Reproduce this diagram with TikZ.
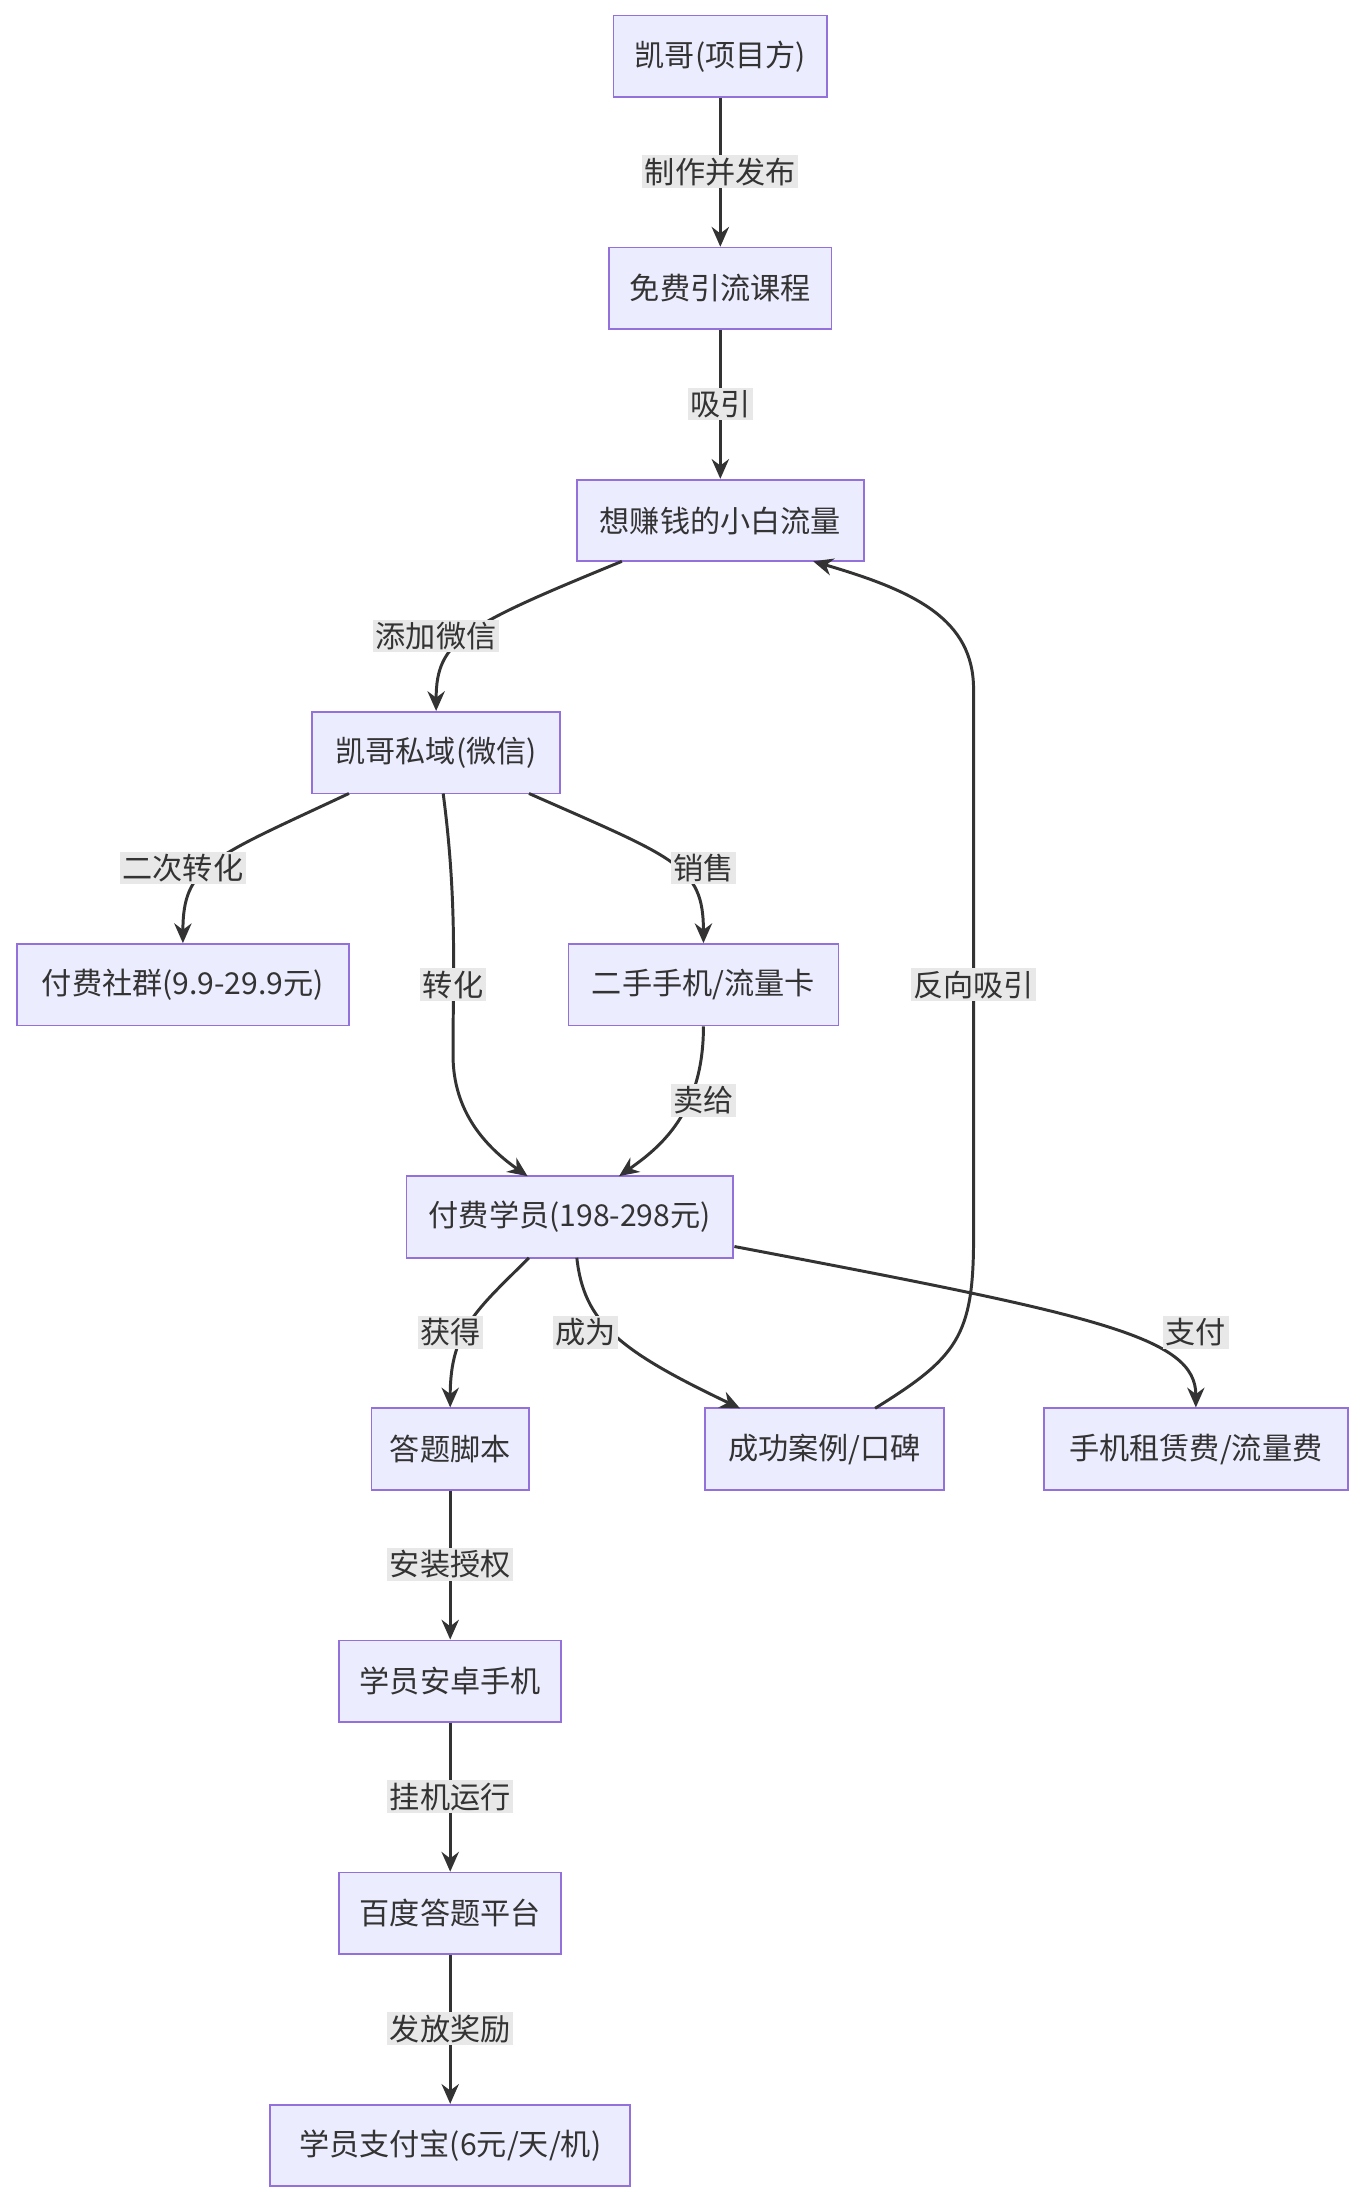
\documentclass[tikz,border=0pt]{standalone}
\usepackage{fontspec}
\setmainfont{Noto Sans CJK SC}
\usepackage{tikz}
\usetikzlibrary{positioning,arrows.meta}
\definecolor{boxfill}{HTML}{ECECFF}
\definecolor{boxline}{HTML}{9370DB}
\definecolor{edge}{HTML}{333333}
\definecolor{lblbg}{HTML}{E8E8E8}
\begin{document}
\begin{tikzpicture}[x=0.02cm,y=-0.02cm,
  box/.style={draw=boxline,fill=boxfill,line width=0.7pt,minimum height=1.16cm,inner xsep=0pt,font=\fontsize{12.2}{14}\selectfont,text=edge},
  lbl/.style={fill=lblbg,inner sep=1pt,font=\fontsize{12.2}{14}\selectfont,text=edge},
  link/.style={draw=edge,line width=1.2pt,-{Stealth[length=8pt,width=7pt]}}]
\useasboundingbox (0,0) rectangle (970,1568);
% nodes
\node[box,minimum width=3.04cm] (kai) at (512,40) {凯哥(项目方)};
\node[box,minimum width=3.16cm] (free) at (512,205) {免费引流课程};
\node[box,minimum width=4.08cm] (xiaobai) at (512,370) {想赚钱的小白流量};
\node[box,minimum width=3.52cm] (siyu) at (310,535) {凯哥私域(微信)};
\node[box,minimum width=4.72cm] (shequn) at (130,700) {付费社群(9.9-29.9元)};
\node[box,minimum width=3.84cm] (phone) at (500,700) {二手手机/流量卡};
\node[box,minimum width=4.64cm] (xueyuan) at (405,865) {付费学员(198-298元)};
\node[box,minimum width=2.24cm] (script) at (320,1030) {答题脚本};
\node[box,minimum width=3.40cm] (cases) at (586,1030) {成功案例/口碑};
\node[box,minimum width=4.32cm] (fee) at (850,1030) {手机租赁费/流量费};
\node[box,minimum width=3.16cm] (android) at (320,1195) {学员安卓手机};
\node[box,minimum width=3.16cm] (baidu) at (320,1360) {百度答题平台};
\node[box,minimum width=5.12cm] (alipay) at (320,1525) {学员支付宝(6元/天/机)};

% connectors
\draw[link] (kai) -- (free);
\draw[link] (free) -- (xiaobai);
\draw[link] (442,399) coordinate (a1) (a1) .. controls (330,445) and (310,455) .. (siyu.north);
\draw[link] (248,564) coordinate (a2) (a2) .. controls (150,610) and (130,615) .. (shequn.north);
\draw[link] (315,564) coordinate (a3) (a3) .. controls (325,640) and (322,690) .. (322,750) .. controls (322,790) and (345,815) .. (375,836);
\draw[link] (376,564) coordinate (a4) (a4) .. controls (480,610) and (500,615) .. (phone.north);
\draw[link] (phone.south) .. controls (500,790) and (470,815) .. (440,836);
\draw[link] (376,894) coordinate (a5) (a5) .. controls (340,930) and (320,945) .. (script.north);
\draw[link] (410,894) coordinate (a6) (a6) .. controls (415,940) and (440,960) .. (526,1001);
\draw[link] (522,886) coordinate (a7) (a7) .. controls (780,935) and (850,950) .. (fee.north);
\draw[link] (622,1001) coordinate (a8) (a8) .. controls (680,965) and (692,950) .. (692,880) -- (692,490) .. controls (692,440) and (650,420) .. (578,399);
\draw[link] (script) -- (android);
\draw[link] (android) -- (baidu);
\draw[link] (baidu) -- (alipay);

% labels
\node[lbl] (l1) at (512,122) {制作并发布};
\node[lbl] (l2) at (512,287) {吸引};
\node[lbl] (l3) at (310,452) {添加微信};
\node[lbl] (l4) at (130,617) {二次转化};
\node[lbl] (l5) at (322,700) {转化};
\node[lbl] (l6) at (500,617) {销售};
\node[lbl] (l7) at (500,782) {卖给};
\node[lbl] (l8) at (320,947) {获得};
\node[lbl] (l9) at (416,947) {成为};
\node[lbl] (l10) at (850,947) {支付};
\node[lbl] (l11) at (692,700) {反向吸引};
\node[lbl] (l12) at (320,1112) {安装授权};
\node[lbl] (l13) at (320,1277) {挂机运行};
\node[lbl] (l14) at (320,1442) {发放奖励};
\end{tikzpicture}
\end{document}
